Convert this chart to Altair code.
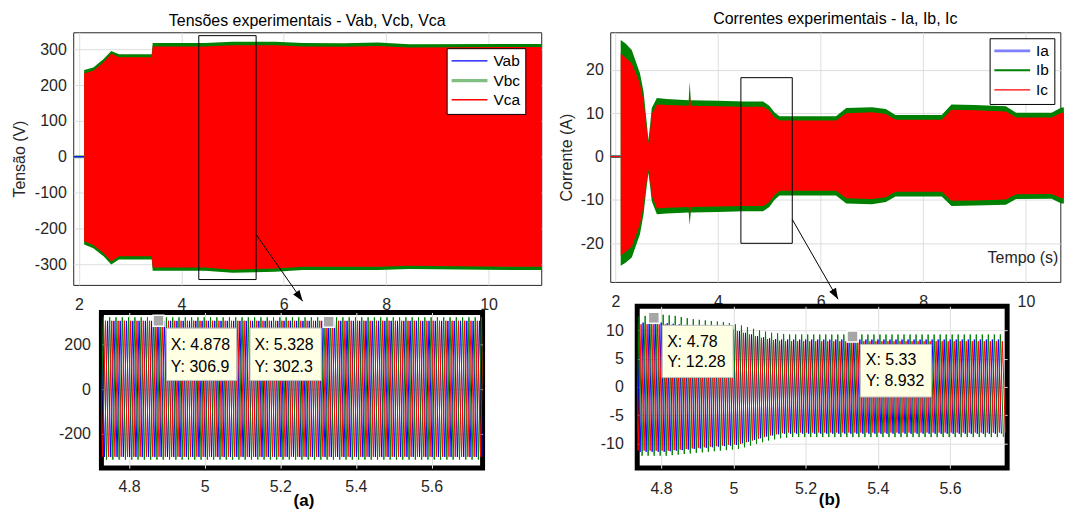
import altair as alt
import pandas as pd

FONT = "Liberation Sans"
TXT = "#262626"
GRID = "#DEDEDE"
BLUE, GREEN, RED = "#0000FF", "#008000", "#FF0000"
F_HZ = 60.0
FS = 16

# ---------------- overview: voltage envelopes ----------------
V_T    = [2.10, 2.28, 2.48, 2.63, 2.78, 3.42, 3.44, 4.46, 5.00, 5.83, 6.37, 7.17, 7.84, 8.45, 10.50, 11.03]
V_G_HI = [242, 249, 273, 295, 286, 286, 317.6, 317.6, 321, 321, 317.6, 316.7, 318.5, 314, 315, 315]
V_R_HI = [233, 240, 264, 288, 278, 278, 308, 308, 311, 311, 308, 307, 309, 305, 306, 306]
V_R_LO = [-236, -246, -269, -292, -278, -278, -309, -309, -315, -312, -307, -307, -307, -304, -307, -307]
V_G_LO = [-245, -255, -278, -301, -287, -287, -318, -318, -324, -321, -316, -316, -316, -313, -316, -316]

# ---------------- overview: current envelopes ----------------
I_T    = [2.105, 2.2, 2.32, 2.48, 2.55, 2.61, 2.645, 2.68, 2.71, 2.81, 3.0, 3.43, 3.45, 3.47, 4.0, 4.5,
          4.88, 5.0, 5.1, 5.2, 6.3, 6.5, 7.0, 7.27, 7.46, 8.36, 8.55, 9.0, 9.61, 9.81, 10.5, 10.69, 10.74]
I_G_HI = [26.9, 26.1, 24.6, 19.2, 15.0, 8.0, 3.8, 7.5, 11.2, 13.5, 13.3, 13.0, 17.3, 13.0, 12.9, 12.7,
          12.7, 11.7, 10.2, 9.3, 9.3, 11.2, 11.4, 11.0, 9.6, 9.6, 12.0, 11.9, 11.6, 10.1, 10.1, 11.3, 11.3]
I_R_HI = [23.8, 22.8, 21.5, 16.8, 12.8, 6.5, 3.0, 6.0, 9.8, 12.0, 11.9, 11.7, 15.0, 11.7, 11.6, 11.5,
          11.5, 10.6, 9.1, 8.3, 8.3, 10.0, 10.2, 9.8, 8.5, 8.5, 10.8, 10.7, 10.4, 9.0, 9.0, 10.1, 10.1]
I_R_LO = [-22.8, -22.0, -20.8, -15.6, -11.3, -5.8, -3.0, -6.0, -9.0, -12.0, -11.8, -11.6, -13.6, -11.6, -11.5, -11.4,
          -11.4, -10.5, -8.9, -7.9, -7.9, -9.6, -9.8, -9.4, -8.1, -8.1, -10.2, -10.1, -9.9, -8.7, -8.6, -9.6, -9.6]
I_G_LO = [-25.2, -24.5, -23.3, -17.9, -13.3, -7.0, -3.8, -7.0, -10.3, -13.3, -13.1, -12.9, -15.8, -12.9, -12.8, -12.6,
          -12.6, -11.6, -10.0, -9.0, -9.0, -10.8, -11.0, -10.5, -9.2, -9.2, -11.4, -11.3, -11.1, -9.8, -9.7, -10.8, -10.8]

# ---------------- series names / legend ----------------
V_NAMES = ["Vab", "Vbc", "Vca"]
I_NAMES = ["Ia", "Ib", "Ic"]
V_LEG_COLORS = [BLUE, "#7FBF7F", RED]
I_LEG_COLORS = ["#7F7FFF", GREEN, RED]
V_LEG_WIDTHS = [1.3, 3.2, 1.3]
I_LEG_WIDTHS = [2.8, 2.0, 1.3]
V_START = [1.887, 2.10]
I_START = [1.901, 2.105]

# ---------------- zoomed windows: per-cycle peak values (60 Hz) ----------------
VZ_T0 = 4.710
VAB_POS = [306.0] * 62
VAB_NEG = [-304.0] * 62
VBC_POS = [322.0] * 62
VBC_NEG = [-316.0] * 62
VCA_POS = [306.5] * 62
VCA_NEG = [-303.0] * 62

IZ_T0 = 4.717
IB_POS = [12.4, 12.5, 12.6, 12.7, 12.8, 12.8, 12.7, 12.6, 12.4, 12.2, 12.0, 11.9, 11.8, 11.7, 11.6, 11.5, 11.3, 11.1,
          10.9, 10.6, 10.3, 10.0, 9.8, 9.6, 9.5, 9.4] + [9.3] * 36
IB_NEG = [-12.2] * 6 + [-12.1, -12.0, -11.9, -11.8, -11.7, -11.6, -11.5, -11.4, -11.3, -11.2, -11.1, -11.0,
          -10.7, -10.4, -10.1, -9.8, -9.5, -9.3, -9.1, -9.0] + [-8.9] * 36
IA_POS = [11.4] * 6 + [11.3, 11.2, 11.1, 11.0, 10.9, 10.8, 10.7, 10.6, 10.5, 10.4, 10.3, 10.2,
          9.9, 9.6, 9.3, 9.0, 8.8, 8.6, 8.5, 8.4] + [8.4] * 36
IA_NEG = [-11.5] * 6 + [-11.4, -11.3, -11.2, -11.1, -11.0, -10.9, -10.8, -10.7, -10.6, -10.5, -10.4, -10.3,
          -10.0, -9.7, -9.4, -9.1, -8.8, -8.6, -8.4, -8.3] + [-8.3] * 36
IC_POS = [11.1] * 6 + [11.0, 10.9, 10.8, 10.7, 10.6, 10.5, 10.4, 10.3, 10.2, 10.1, 10.0, 9.9,
          9.6, 9.3, 9.0, 8.7, 8.5, 8.3, 8.2, 8.1] + [8.1] * 36
IC_NEG = [-11.3] * 6 + [-11.2, -11.1, -11.0, -10.9, -10.8, -10.7, -10.6, -10.5, -10.4, -10.3, -10.2, -10.1,
          -9.8, -9.5, -9.2, -8.9, -8.6, -8.4, -8.2, -8.1] + [-8.1] * 36

# ---------------- data tips ----------------
TIP_V_X = [4.878, 5.328]
TIP_V_Y = [306.9, 302.3]
TIP_I_X = [4.78, 5.33]
TIP_I_Y = [12.28, 8.932]

# ---------------- zoom rectangles and arrows (overview coordinates) ----------------
RECT_V = dict(x1=[4.34], x2=[5.46], y1=[-342.7], y2=[338.0])
ARROW_V = dict(x1=[5.46], x2=[6.37], y1=[-217.0], y2=[-403.0])
RECT_I = dict(x1=[4.447], x2=[5.448], y1=[-20.0], y2=[18.2])
ARROW_I = dict(x1=[5.448], x2=[6.34], y1=[-14.5], y2=[-32.9])

# ---------------- domains ----------------
TL_XDOM, TL_YDOM = [1.887, 11.03], [-357.6, 347.4]
TR_XDOM, TR_YDOM = [1.901, 10.671], [-28.9, 28.67]
BL_XDOM, BL_YDOM = [4.727, 5.735], [-354.0, 343.6]
BR_XDOM, BR_YDOM = [4.734, 5.758], [-14.4, 14.3]

HEAD = "M0,0L0.35,-1L-0.35,-1Z"
LBL = "replace(toString(datum.value), '\u2212', '-')"


def zigzag(t0, pos, neg, shift):
    rows = []
    for k, (p, n) in enumerate(zip(pos, neg)):
        tp = t0 + (k + shift) / F_HZ
        rows.append((tp, p))
        rows.append((tp + 0.5 / F_HZ, n))
    return pd.DataFrame(rows, columns=["t", "v"])


def enc(dom_x, dom_y, ax_x, ax_y):
    fx = lambda f: alt.X(f"{f}:Q", scale=alt.Scale(domain=dom_x, nice=False, zero=False), axis=ax_x)
    fy = lambda f: alt.Y(f"{f}:Q", scale=alt.Scale(domain=dom_y, nice=False, zero=False), axis=ax_y)
    return fx, fy


def legend(offset):
    return alt.Legend(title=None, orient="top-right", offset=offset, fillColor="white", strokeColor="black",
                      padding=5, labelFontSize=15.5, labelColor="black", labelFont=FONT,
                      symbolType="M-3,0H3", symbolSize=144, symbolOffset=10, labelOffset=16, rowPadding=2.5)


def overview(t, g_lo, g_hi, r_lo, r_hi, names, zero_order, start, colors, widths, rect, arrow, angle,
             fx, fy, leg, w, h, title, title_off):
    df = pd.DataFrame({"t": t, "g_lo": g_lo, "g_hi": g_hi, "r_lo": r_lo, "r_hi": r_hi})
    zrows = [(n, s, 0.0) for n in zero_order for s in start]
    dz = pd.DataFrame(zrows, columns=["s", "t", "v"])
    g = alt.Chart(df).mark_area(color=GREEN, opacity=1).encode(x=fx("t"), y=fy("g_lo"), y2="g_hi")
    r = alt.Chart(df).mark_area(color=RED, opacity=1).encode(x=fx("t"), y=fy("r_lo"), y2="r_hi")
    z = alt.Chart(dz).mark_line().encode(
        x=fx("t"), y=fy("v"),
        color=alt.Color("s:N", scale=alt.Scale(domain=names, range=colors), legend=leg),
        strokeWidth=alt.StrokeWidth("s:N", scale=alt.Scale(type="ordinal", domain=names, range=widths),
                                    legend=leg),
    )
    rc = alt.Chart(pd.DataFrame(rect)).mark_rect(fillOpacity=0, stroke="black", strokeWidth=1).encode(
        x=fx("x1"), x2="x2", y=fy("y1"), y2="y2")
    da = pd.DataFrame(arrow)
    ar = alt.Chart(da).mark_rule(color="black", strokeWidth=1).encode(x=fx("x1"), x2="x2", y=fy("y1"), y2="y2")
    hd = alt.Chart(da).mark_point(shape=HEAD, filled=True, color="black", opacity=1, size=484, angle=angle,
                                  strokeWidth=0).encode(x=fx("x2"), y=fy("y2"))
    return alt.layer(g, r, z, rc, ar, hd).properties(
        width=w, height=h,
        title=alt.TitleParams(title, fontSize=FS, fontWeight="normal", font=FONT, color="black",
                              offset=title_off, frame="group"),
        view=alt.ViewBackground(stroke=TXT, strokeWidth=1))


def zoomed(t0, series, tips_x, tips_y, tip_style, fx, fy, w, h, cap, cap_dx, cap_off):
    layers = []
    for pos, neg, shift, col in series:
        d = zigzag(t0, pos, neg, shift)
        layers.append(alt.Chart(d).mark_line(color=col, strokeWidth=1, clip=True).encode(x=fx("t"), y=fy("v")))
    for i, (tx, ty) in enumerate(zip(tips_x, tips_y)):
        bx0, bx1, by0, by1, txo, ty1, ty2 = tip_style[i]
        d = pd.DataFrame({"tx": [tx], "ty": [ty],
                          "lx": [f"X: {tx:g}"], "ly": [f"Y: {ty:g}"]})
        layers.append(alt.Chart(d).mark_square(size=121, color="#A6A6A6", stroke="white", strokeWidth=1.5,
                                               opacity=1).encode(x=fx("tx"), y=fy("ty")))
        layers.append(alt.Chart(d).mark_rect(xOffset=bx0, x2Offset=bx1, yOffset=by0, y2Offset=by1,
                                             fill="#FFFFE4", stroke="#BDBDBD", strokeWidth=1).encode(
            x=fx("tx"), x2="tx", y=fy("ty"), y2="ty"))
        layers.append(alt.Chart(d).mark_text(align="left", baseline="middle", dx=txo, dy=ty1, fontSize=FS,
                                             color="black", font=FONT).encode(x=fx("tx"), y=fy("ty"), text="lx:N"))
        layers.append(alt.Chart(d).mark_text(align="left", baseline="middle", dx=txo, dy=ty2, fontSize=FS,
                                             color="black", font=FONT).encode(x=fx("tx"), y=fy("ty"), text="ly:N"))
    return alt.layer(*layers).properties(
        width=w, height=h,
        view=alt.ViewBackground(stroke="black", strokeWidth=5),
        title=alt.TitleParams(cap, orient="bottom", fontSize=17, fontWeight="bold", font=FONT, color="black",
                              dx=cap_dx, frame="group", offset=cap_off))


def spacer():
    return alt.Chart(pd.DataFrame({"a": [0]})).mark_point(opacity=0).properties(
        width=1, height=1, view=alt.ViewBackground(stroke="transparent", strokeWidth=0))


# ---------------- axes ----------------
AX_TL_X = alt.Axis(title=None, values=[2, 4, 6, 8, 10], grid=True, labelPadding=12, labelExpr=LBL)
AX_TL_Y = alt.Axis(title="Tensão (V)", values=[-300, -200, -100, 0, 100, 200, 300], grid=True, labelPadding=7,
                   labelExpr=LBL, minExtent=40, titlePadding=6.2)
AX_TR_X = alt.Axis(title="Tempo (s)", values=[2, 4, 6, 8, 10], grid=True, labelPadding=12, labelExpr=LBL,
                   titleX=414, titleY=-24.3, titleBaseline="middle", titleAlign="center", titleAngle=0)
AX_TR_Y = alt.Axis(title="Corrente (A)", values=[-20, -10, 0, 10, 20], grid=True, labelPadding=7,
                   labelExpr=LBL, minExtent=31, titlePadding=4.9)
AX_BL_X = alt.Axis(title=None, values=[4.8, 5.0, 5.2, 5.4, 5.6], grid=True, labelPadding=10, labelExpr=LBL)
AX_BL_Y = alt.Axis(title=None, values=[-200, 0, 200], grid=True, labelPadding=11, labelExpr=LBL, minExtent=45)
AX_BR_X = alt.Axis(title=None, values=[4.8, 5.0, 5.2, 5.4, 5.6], grid=True, labelPadding=12, labelExpr=LBL)
AX_BR_Y = alt.Axis(title=None, values=[-10, -5, 0, 5, 10], grid=True, labelPadding=14, labelExpr=LBL,
                   minExtent=40)

tlx, tly = enc(TL_XDOM, TL_YDOM, AX_TL_X, AX_TL_Y)
trx, try_ = enc(TR_XDOM, TR_YDOM, AX_TR_X, AX_TR_Y)
blx, bly = enc(BL_XDOM, BL_YDOM, AX_BL_X, AX_BL_Y)
brx, bry = enc(BR_XDOM, BR_YDOM, AX_BR_X, AX_BR_Y)

tl = overview(V_T, V_G_LO, V_G_HI, V_R_LO, V_R_HI, V_NAMES, ["Vca", "Vbc", "Vab"], V_START,
              V_LEG_COLORS, V_LEG_WIDTHS, RECT_V, ARROW_V, 324.4, tlx, tly, legend(16), 470, 253.7,
              "Tensões experimentais - Vab, Vcb, Vca", 3.3)
tr = overview(I_T, I_G_LO, I_G_HI, I_R_LO, I_R_HI, I_NAMES, ["Ia", "Ib", "Ic"], I_START,
              I_LEG_COLORS, I_LEG_WIDTHS, RECT_I, ARROW_I, 330.2, trx, try_, legend(6), 452, 250.7,
              "Correntes experimentais - Ia, Ib, Ic", 5)

bl = zoomed(VZ_T0,
            [(VAB_POS, VAB_NEG, 0.0, BLUE), (VBC_POS, VBC_NEG, 1 / 3, GREEN), (VCA_POS, VCA_NEG, 2 / 3, RED)],
            TIP_V_X, TIP_V_Y,
            [(8, 78.4, 7.5, 60, 12.4, 24, 47), (-79, -7.4, 6.4, 59, -74.6, 23, 45.7)],
            blx, bly, 382.8, 156.3, "(a)", 12, -1.3)
br = zoomed(IZ_T0,
            [(IA_POS, IA_NEG, 0.0, BLUE), (IB_POS, IB_NEG, 1 / 3, GREEN), (IC_POS, IC_NEG, 2 / 3, RED)],
            TIP_I_X, TIP_I_Y,
            [(8.4, 79.6, 7.7, 60, 13.4, 24.4, 44.4), (7.8, 79.3, 8, 60.7, 13.4, 24, 44.7)],
            brx, bry, 371.5, 162.5, "(b)", 7.5, -4.3)

RES = dict(color="independent", strokeWidth="independent")
bl_row = alt.hconcat(spacer(), bl, spacing=-23.7)
br_row = alt.hconcat(spacer(), br, spacing=-19.9)
# flush bounds: the zoom panels are placed from the plot heights only, so they may overlap the upper tick labels
left = alt.vconcat(tl, bl_row, spacing=27.4, bounds="flush").resolve_scale(**RES).resolve_legend(**RES)
right = alt.vconcat(tr, br_row, spacing=24.2, bounds="flush").resolve_scale(**RES).resolve_legend(**RES)

chart = alt.hconcat(left, right, spacing=15.3).resolve_scale(**RES).resolve_legend(**RES).properties(
    padding={"left": 2.5, "top": 1.3, "right": 0, "bottom": 0}, background="white"
).configure(font=FONT).configure_axis(
    labelFontSize=FS, labelColor=TXT, labelFont=FONT, titleFont=FONT, titleFontSize=FS,
    titleFontWeight="normal", titleColor=TXT, domain=False, ticks=False, gridColor=GRID, gridWidth=1,
    labelFlush=False, labelOverlap=False
)

chart.save("out.html", embed_options={"renderer": "svg", "actions": False})
